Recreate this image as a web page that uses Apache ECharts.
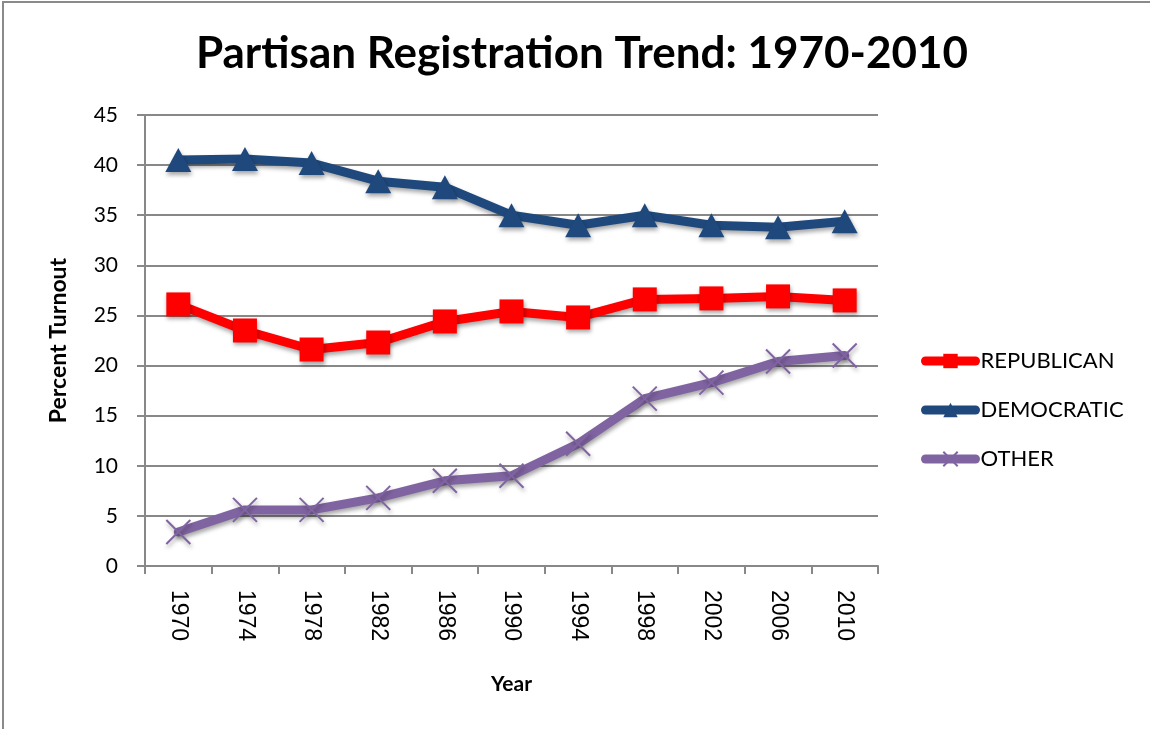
<!DOCTYPE html>
<html lang="en">
<head>
    <meta charset="UTF-8">
    <title>Partisan Registration Trend</title>
    <script src="https://cdn.jsdelivr.net/npm/echarts@6/dist/echarts.min.js"></script>
    <style>
        html, body { margin: 0; padding: 0; background: #fff; }
        #chart { width: 1150px; height: 729px; }
    </style>
</head>
<body>
<div id="chart"></div>
<script>
    // data
    var years = ['1970','1974','1978','1982','1986','1990','1994','1998','2002','2006','2010'];
    var republican = [26.1, 23.5, 21.6, 22.3, 24.4, 25.4, 24.8, 26.6, 26.7, 26.9, 26.5];
    var democratic = [40.5, 40.6, 40.2, 38.4, 37.8, 35.0, 34.0, 35.0, 34.0, 33.8, 34.4];
    var other = [3.4, 5.6, 5.6, 6.8, 8.5, 9.0, 12.2, 16.7, 18.3, 20.4, 21.0];

    var shadow = {shadowBlur: 4, shadowOffsetX: 1, shadowOffsetY: 3, shadowColor: 'rgba(0,0,0,0.35)'};

    function makeSeries(name, data, color, symbol, size, extraItem) {
        var item = {color: color};
        for (var k in shadow) item[k] = shadow[k];
        if (extraItem) for (var e in extraItem) item[e] = extraItem[e];
        var line = {color: color, width: 9, cap: 'round', join: 'round'};
        for (var s in shadow) line[s] = shadow[s];
        return {
            name: name,
            type: 'line',
            data: data,
            symbol: symbol,
            symbolSize: size,
            showAllSymbol: true,
            lineStyle: line,
            itemStyle: item,
            emphasis: {disabled: true}
        };
    }

    var chart = echarts.init(document.getElementById('chart'));
    chart.setOption({
        animation: false,
        backgroundColor: '#fff',
        graphic: [{
            type: 'rect',
            shape: {x: 3, y: 2, width: 1200, height: 800},
            style: {fill: 'none', stroke: '#8a8a8a', lineWidth: 2},
            silent: true
        }],
        title: {
            text: 'Partisan Registration Trend: 1970-2010',
            left: 577,
            top: 27,
            textAlign: 'center',
            textStyle: {fontFamily: 'Lato', fontWeight: 'bold', fontSize: 44, color: '#000'}
        },
        legend: {
            orient: 'vertical',
            left: 916,
            top: 345,
            itemWidth: 50,
            itemHeight: 18,
            itemGap: 27,
            data: ['REPUBLICAN', 'DEMOCRATIC', 'OTHER'],
            lineStyle: {width: 9, cap: 'round', shadowBlur: 0, shadowOffsetX: 0, shadowOffsetY: 0},
            itemStyle: {shadowBlur: 0, shadowOffsetX: 0, shadowOffsetY: 0},
            textStyle: {fontFamily: 'Lato', fontSize: 22, color: '#000'}
        },
        grid: {left: 145, right: 272, top: 115, bottom: 163},
        xAxis: {
            type: 'category',
            data: years,
            boundaryGap: true,
            name: 'Year',
            nameLocation: 'middle',
            nameGap: 108,
            nameTextStyle: {fontFamily: 'Lato', fontWeight: 'bold', fontSize: 21, color: '#000'},
            axisLine: {lineStyle: {color: '#888', width: 2}},
            axisTick: {show: true, length: 8, lineStyle: {color: '#888', width: 2}},
            axisLabel: {rotate: -90, margin: 24, fontFamily: 'Liberation Sans', fontSize: 23, color: '#000'}
        },
        yAxis: {
            type: 'value',
            min: 0,
            max: 45,
            interval: 5,
            name: 'Percent Turnout',
            nameLocation: 'middle',
            nameGap: 75,
            nameTextStyle: {fontFamily: 'Lato', fontWeight: 'bold', fontSize: 23, color: '#000'},
            axisLine: {show: true, lineStyle: {color: '#888', width: 2}},
            axisTick: {show: true, length: 8, lineStyle: {color: '#888', width: 2}},
            axisLabel: {margin: 27, fontFamily: 'Lato', fontSize: 21, color: '#000'},
            splitLine: {lineStyle: {color: '#888', width: 2}}
        },
        series: [
            makeSeries('REPUBLICAN', republican, '#ff0000', 'rect', 24),
            makeSeries('DEMOCRATIC', democratic, '#1f497d', 'triangle', [26, 24]),
            makeSeries('OTHER', other, '#8064a2', 'path://M0,0 L10,10 M10,0 L0,10', 24,
                {borderColor: '#8064a2', borderWidth: 2})
        ]
    });
</script>
</body>
</html>
